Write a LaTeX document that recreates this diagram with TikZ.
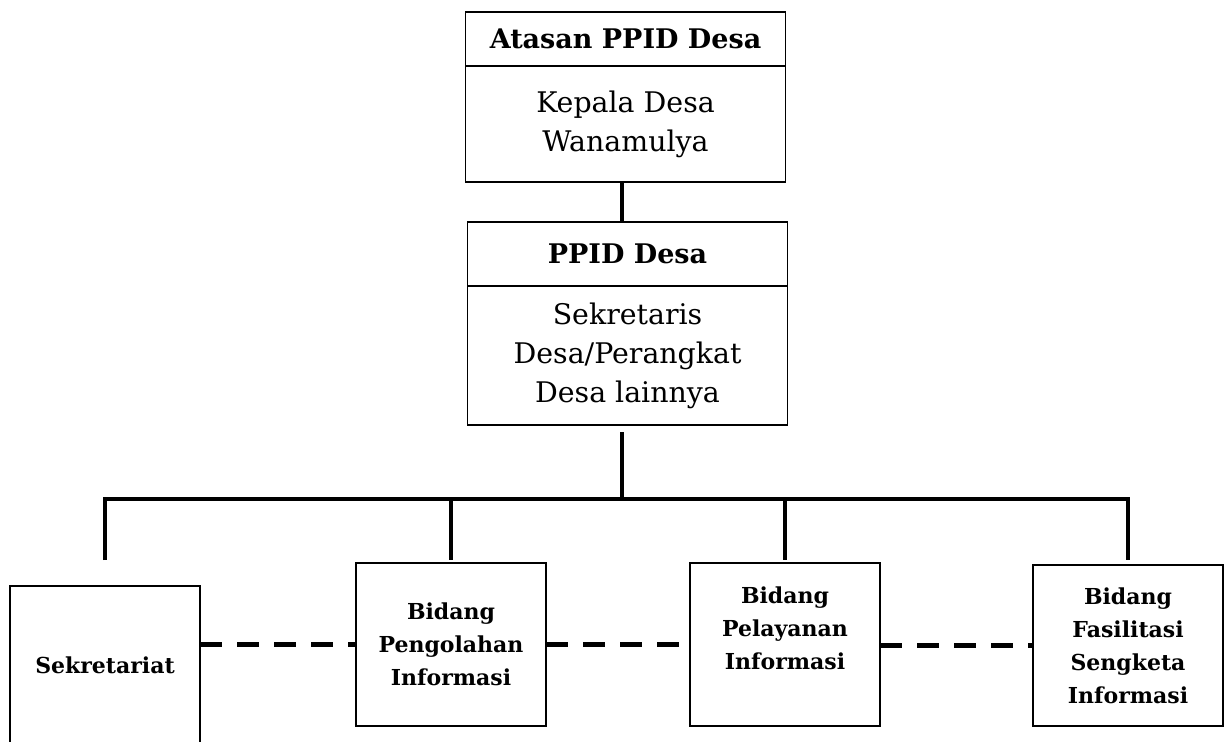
\documentclass[tikz,border=0pt]{standalone}
\usepackage{fontspec}
\setmainfont{DejaVu Serif}
\usetikzlibrary{positioning}

\begin{document}
\begin{tikzpicture}[
x=0.5pt, y=-0.5pt,
headbox/.style={rectangle, draw, line width=0.8pt, outer sep=0pt, minimum width=160pt, font=\fontsize{13.5}{20}\selectfont\bfseries},
bodybox/.style={rectangle, draw, line width=0.8pt, outer sep=0pt, minimum width=160pt, align=center, font=\fontsize{14.2}{19.5}\selectfont},
unitbox/.style={rectangle, draw, line width=0.8pt, outer sep=0pt, minimum width=95pt, minimum height=81.5pt, align=center, font=\fontsize{11}{16.5}\selectfont\bfseries},
link/.style={line width=1.7pt},
dashlink/.style={line width=2.3pt, dash pattern=on 11pt off 7.5pt, yshift=-2.5pt},
dashshade/.style={dashlink, black!35, yshift=-1.2pt}]
\useasboundingbox (0,0) rectangle (1229,742);
\clip (0,0) rectangle (1229,742);
% Nodes
\node[headbox, minimum height=27pt] (atasan) at (625.5,39) {Atasan PPID Desa};
\node[bodybox, minimum height=58pt] (kades) [below=0pt of atasan] {Kepala Desa\\Wanamulya};
\node[headbox, minimum height=32pt] (ppid) at (627.5,254) {PPID Desa};
\node[bodybox, minimum height=69.5pt] (sekdes) [below=0pt of ppid] {Sekretaris\\Desa/Perangkat\\Desa lainnya};
\node[unitbox, minimum height=79.5pt] (sekre) at (105,665.5) {Sekretariat};
\node[unitbox] (olah) at (451,644.5) {Bidang\\Pengolahan\\Informasi};
\node[unitbox] (layan) at (785,644.5) {Bidang\\Pelayanan\\Informasi\\\mbox{}};
\node[unitbox, minimum height=80.5pt] (fasil) at (1128,645.5) {Bidang\\Fasilitasi\\Sengketa\\Informasi};
\coordinate (bus) at (622,499);
\coordinate (drop) at (0,560);
% Lines
\draw[link] (bus |- kades.south) -- (bus |- ppid.north);
\draw[link, shorten <=3.5pt] (bus |- sekdes.south) -- (bus);
\draw[link] (sekre.north |- drop) -- (sekre.north |- bus) -- (fasil.north |- bus) -- (fasil.north |- drop);
\draw[link] (olah.north |- bus) -- (olah.north |- drop);
\draw[link] (layan.north |- bus) -- (layan.north |- drop);
\draw[dashshade] (sekre.east |- olah.west) -- (olah.west);
\draw[dashshade] (olah.east) -- (layan.west);
\draw[dashshade] (layan.east |- fasil.west) -- (fasil.west);
\draw[dashlink] (sekre.east |- olah.west) -- (olah.west);
\draw[dashlink] (olah.east) -- (layan.west);
\draw[dashlink] (layan.east |- fasil.west) -- (fasil.west);
\end{tikzpicture}
\end{document}
